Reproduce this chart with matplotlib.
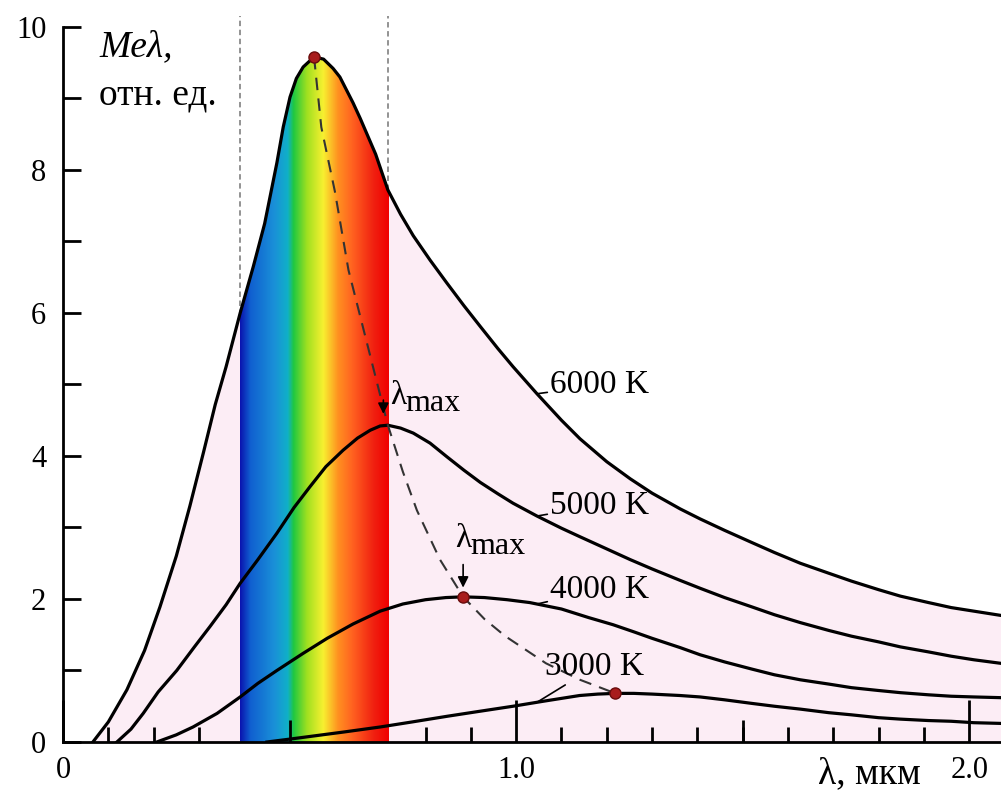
import numpy as np
import matplotlib.pyplot as plt
from matplotlib.colors import LinearSegmentedColormap

plt.rcParams['font.family'] = ['Liberation Serif', 'DejaVu Serif']
plt.rcParams['mathtext.fontset'] = 'stix'

# curves (wavelength in um, relative units)
x6000 = [0.066, 0.10, 0.141, 0.18, 0.214, 0.25, 0.28, 0.31, 0.336, 0.36, 0.391, 0.42, 0.445,
         0.472, 0.486, 0.501, 0.515, 0.530, 0.554, 0.575, 0.596, 0.611, 0.640, 0.656, 0.69,
         0.717, 0.745, 0.773, 0.81, 0.847, 0.885, 0.921, 0.96, 0.993, 1.046, 1.10, 1.141,
         1.20, 1.252, 1.30, 1.362, 1.406, 1.46, 1.52, 1.57, 1.627, 1.69, 1.74, 1.80, 1.848,
         1.91, 1.96, 2.01, 2.07]
y6000 = [0.0, 0.28, 0.73, 1.28, 1.89, 2.60, 3.30, 4.05, 4.72, 5.25, 6.00, 6.65, 7.25,
         8.10, 8.60, 9.02, 9.28, 9.44, 9.58, 9.55, 9.42, 9.30, 8.94, 8.72, 8.22,
         7.72, 7.38, 7.08, 6.74, 6.42, 6.10, 5.81, 5.50, 5.25, 4.87, 4.50, 4.24,
         3.92, 3.68, 3.48, 3.26, 3.12, 2.96, 2.79, 2.65, 2.50, 2.36, 2.25, 2.13, 2.04,
         1.95, 1.88, 1.83, 1.77]

x5000 = [0.119, 0.15, 0.177, 0.21, 0.251, 0.29, 0.325, 0.36, 0.391, 0.43, 0.472, 0.51, 0.545,
         0.58, 0.618, 0.65, 0.678, 0.700, 0.717, 0.745, 0.773, 0.81, 0.847, 0.885, 0.921,
         0.96, 0.993, 1.046, 1.10, 1.141, 1.20, 1.252, 1.30, 1.362, 1.406, 1.46, 1.52, 1.57,
         1.627, 1.69, 1.74, 1.80, 1.848, 1.91, 1.96, 2.01, 2.07]
y5000 = [0.0, 0.18, 0.40, 0.70, 1.00, 1.33, 1.62, 1.92, 2.22, 2.55, 2.92, 3.28, 3.57,
         3.85, 4.08, 4.25, 4.36, 4.42, 4.43, 4.39, 4.32, 4.18, 3.99, 3.80, 3.63,
         3.47, 3.34, 3.16, 2.99, 2.87, 2.70, 2.55, 2.42, 2.26, 2.15, 2.02, 1.89, 1.78,
         1.67, 1.56, 1.48, 1.40, 1.33, 1.26, 1.20, 1.15, 1.10]

x4000 = [0.207, 0.25, 0.287, 0.34, 0.391, 0.43, 0.472, 0.53, 0.583, 0.64, 0.70, 0.75, 0.80,
         0.845, 0.883, 0.93, 0.98, 1.03, 1.10, 1.16, 1.214, 1.26, 1.30, 1.362, 1.406, 1.46,
         1.52, 1.57, 1.627, 1.69, 1.74, 1.80, 1.848, 1.91, 1.96, 2.01, 2.07]
y4000 = [0.0, 0.10, 0.21, 0.40, 0.63, 0.82, 1.00, 1.24, 1.45, 1.65, 1.83, 1.93, 1.99,
         2.02, 2.03, 2.02, 1.99, 1.95, 1.86, 1.74, 1.64, 1.54, 1.45, 1.32, 1.22, 1.12,
         1.02, 0.94, 0.87, 0.81, 0.76, 0.72, 0.69, 0.66, 0.64, 0.63, 0.62]

x3000 = [0.45, 0.50, 0.56, 0.62, 0.70, 0.77, 0.848, 0.92, 0.993, 1.06, 1.10, 1.14, 1.18,
         1.219, 1.26, 1.30, 1.362, 1.406, 1.46, 1.52, 1.57, 1.627, 1.69, 1.74, 1.80, 1.848,
         1.91, 1.96, 2.01, 2.07]
y3000 = [0.0, 0.04, 0.09, 0.14, 0.21, 0.28, 0.36, 0.43, 0.50, 0.57, 0.61, 0.65, 0.67,
         0.68, 0.68, 0.67, 0.65, 0.63, 0.59, 0.54, 0.50, 0.46, 0.41, 0.38, 0.34, 0.32,
         0.30, 0.29, 0.27, 0.26]

# Wien displacement line through the maxima
wien_x = [0.554, 0.57, 0.60, 0.63, 0.67, 0.70, 0.717, 0.75, 0.781, 0.832, 0.883, 0.93, 0.976,
          1.066, 1.141, 1.219]
wien_y = [9.58, 8.60, 7.70, 6.60, 5.60, 4.85, 4.43, 3.78, 3.24, 2.55, 2.03, 1.72, 1.48,
          1.10, 0.87, 0.68]

peak_x = [0.554, 0.717, 0.883, 1.219]
peak_y = [9.58, 4.43, 2.03, 0.68]

temps = ['6000 K', '5000 K', '4000 K', '3000 K']
vis_lo, vis_hi = 0.39, 0.717

spec_cmap = LinearSegmentedColormap.from_list('spec', [
    (0.00, '#0a14b0'), (0.07, '#1060d0'), (0.23, '#1a90d8'), (0.32, '#10b0c8'),
    (0.36, '#20c840'), (0.45, '#a0e020'), (0.56, '#f8f030'), (0.66, '#ff9020'),
    (0.76, '#ff6020'), (0.90, '#f02010'), (1.00, '#f00000')])

fig = plt.figure(figsize=(10.01, 7.93), dpi=100)
ax = fig.add_axes([63/1001, 51/793, 938/1001, 736.5/793])

pink = ax.fill_between(x6000, y6000, 0, color='#fcedf5', lw=0, zorder=1)
grad = np.linspace(0, 1, 256).reshape(1, -1)
im = ax.imshow(grad, cmap=spec_cmap, extent=[vis_lo, vis_hi, 0, 10], aspect='auto',
               interpolation='bilinear', zorder=2)
im.set_clip_path(pink.get_paths()[0], transform=ax.transData)

# borders of the visible range
for xv in (vis_lo, vis_hi):
    ax.vlines(xv, np.interp(xv, x6000, y6000), 10.15, colors='#8a8a8a', lw=1.3,
              linestyles=(0, (3, 2)), zorder=2.5)

for xs, ys in [(x6000, y6000), (x5000, y5000), (x4000, y4000), (x3000, y3000)]:
    ax.plot(xs, ys, color='black', lw=2.3, zorder=3, solid_joinstyle='round')

ax.plot(wien_x, wien_y, color='#333333', lw=1.5, ls=(0, (6, 4)), zorder=4)
dots = [0, 2, 3]
ax.plot([peak_x[i] for i in dots], [peak_y[i] for i in dots], 'o', color='#a81c1c',
        mec='#6a0c0c', ms=8, zorder=5)

# temperature labels with small leaders
for lab, xs, ys, tx, ty in [(temps[0], x6000, y6000, 1.075, 4.99),
                            (temps[1], x5000, y5000, 1.075, 3.31),
                            (temps[2], x4000, y4000, 1.075, 2.13),
                            (temps[3], x3000, y3000, 1.064, 1.05)]:
    ax.annotate(lab, xy=(1.046, np.interp(1.046, xs, ys)), xytext=(tx, ty),
                fontsize=24, va='center', ha='left', zorder=6,
                arrowprops=dict(arrowstyle='-', color='black', lw=1.2, shrinkA=0, shrinkB=0))

# lambda_max markers
for lx, ly, ax0, ay0, ay1 in [(0.722, 4.72, 0.707, 4.82, 4.55),
                              (0.865, 2.73, peak_x[2], 2.52, 2.12)]:
    ax.annotate('', xy=(ax0, ay1), xytext=(ax0, ay0),
                arrowprops=dict(arrowstyle='-|>', color='black', lw=1.2, mutation_scale=16),
                zorder=6)
    ax.text(lx, ly, 'λ', fontsize=24, va='baseline', ha='left', zorder=6)
    ax.annotate('max', xy=(lx, ly), xytext=(11, -5), textcoords='offset points',
                fontsize=23, va='baseline', ha='left', zorder=6)

# axis titles
ax.text(0.08, 9.72, 'Meλ,', fontsize=27, style='italic', va='center', ha='left')
ax.text(0.08, 9.05, 'отн. ед.', fontsize=27, va='center', ha='left')
ax.text(1.78, -0.45, 'λ, мкм', fontsize=27, va='center', ha='center')

ax.set_xlim(0, 2.07)
ax.set_ylim(0, 10.3)
for s in ('top', 'right'):
    ax.spines[s].set_visible(False)
ax.spines['left'].set_bounds(0, 10)
ax.spines['left'].set_linewidth(2)
ax.spines['bottom'].set_linewidth(2)

ax.set_yticks(range(0, 11, 2))
ax.set_yticks(range(1, 11, 2), minor=True)
ax.tick_params(axis='y', which='both', direction='in', length=13, width=2, labelsize=22, pad=12)
ax.set_xticks([0, 1, 2])
ax.set_xticklabels(['0', '1.0', '2.0'])
ax.set_xticks(np.arange(0.1, 2.05, 0.1), minor=True)
ax.tick_params(axis='x', which='major', direction='in', length=30, width=2, labelsize=22, pad=10)
ax.tick_params(axis='x', which='minor', direction='in', length=11, width=2)
ax.vlines([0.5, 1.5], 0, 0.31, colors='black', lw=2, zorder=3)

fig.savefig('out.png', dpi=100)
